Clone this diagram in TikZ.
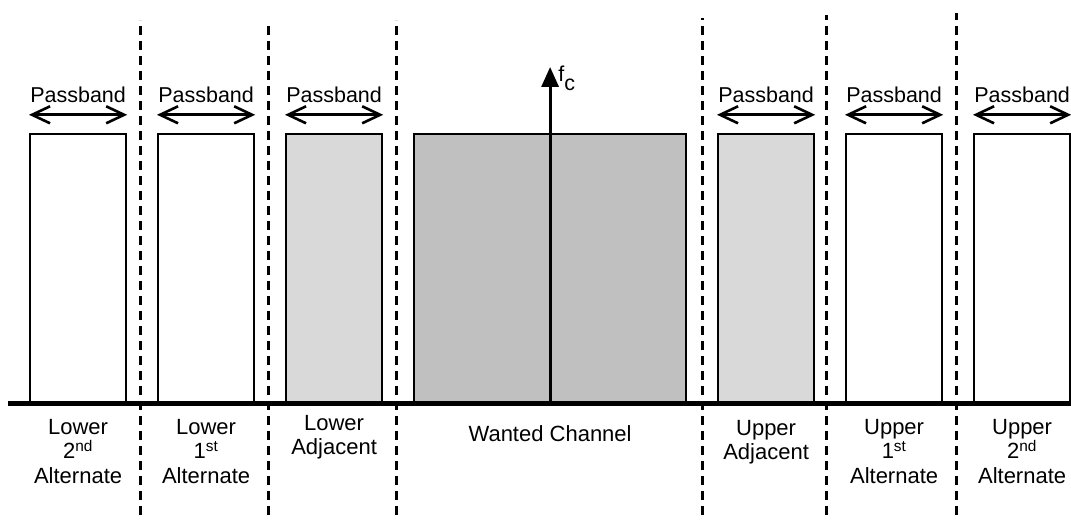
\documentclass[tikz,border=0pt]{standalone}
\usepackage{fontspec}
\setmainfont{Liberation Sans}
\usetikzlibrary{arrows.meta}
\definecolor{adjgray}{RGB}{217,217,217}
\definecolor{wantgray}{RGB}{192,192,192}
\tikzset{band/.style={draw, line width=2.2pt, inner sep=0pt, anchor=south west, minimum height=268pt, minimum width=#1}}
\tikzset{band/.default=96pt}
\tikzset{passband/.style={line width=2.6pt, <->, >={Straight Barb[length=18pt, width=17pt]}}}
\tikzset{carrier/.style={line width=3.2pt, -{Triangle[length=20pt, width=17pt]}}}
\tikzset{divider/.style={line width=3pt, dash pattern=on 9pt off 6pt}}
\tikzset{chanlabel/.style={anchor=north, align=center, inner sep=0pt, font=\fontsize{22}{24.5}\selectfont}}

\begin{document}
\begin{tikzpicture}[x=1pt, y=1pt, font=\fontsize{21.5}{24.5}\selectfont]
            \useasboundingbox (0, 0) rectangle (1071, 520);
            % channel boxes
            \foreach \name/\xpos/\col in {lalt2/29/white, lalt1/157/white, ladj/285/adjgray, uadj/717/adjgray, ualt1/845/white, ualt2/973/white} {
                \node[band, fill=\col] (\name) at (\xpos, 117) {};
            }
            \node[band=272pt, fill=wantgray] (wanted) at (413, 117) {};
            \foreach \name in {lalt2, lalt1, ladj, uadj, ualt1, ualt2} {
                \draw[passband] ([yshift=18pt]\name.north west) -- ([yshift=18pt]\name.north east) node [midway, above=11pt, inner sep=0pt] {Passband};
            }
            % separators
            \foreach \xpos/\top in {140/500, 268/498, 396/500, 702/502, 826/505, 956/507} {
                \draw[divider] (\xpos, 5) -- (\xpos, \top);
            }
            \coordinate (axisstart) at (8, 117);
            \coordinate (axisend) at (1071, 117);
            \draw[line width=5pt] (axisstart) -- (axisend);
            \coordinate (fc) at ([yshift=336pt]wanted.south);
            \draw[carrier] (wanted.south) -- (fc);
            \node[anchor=north west, inner sep=0pt] (fclabel) at ([xshift=8pt, yshift=1pt]fc) {f\raisebox{-9pt}{c}};
            % labels under the axis
            \node[chanlabel] (lalt2lbl) at ([yshift=-16pt]lalt2.south) {Lower\\2\textsuperscript{nd}\\Alternate};
            \node[chanlabel] (lalt1lbl) at ([yshift=-16pt]lalt1.south) {Lower\\1\textsuperscript{st}\\Alternate};
            \node[chanlabel] (ladjlbl) at ([yshift=-12pt]ladj.south) {Lower\\Adjacent};
            \node[chanlabel] (wantedlbl) at ([yshift=-22pt]wanted.south) {Wanted Channel};
            \node[chanlabel] (uadjlbl) at ([yshift=-17pt]uadj.south) {Upper\\Adjacent};
            \node[chanlabel] (ualt1lbl) at ([yshift=-16pt]ualt1.south) {Upper\\1\textsuperscript{st}\\Alternate};
            \node[chanlabel] (ualt2lbl) at ([yshift=-16pt]ualt2.south) {Upper\\2\textsuperscript{nd}\\Alternate};
        \end{tikzpicture}
\end{document}
